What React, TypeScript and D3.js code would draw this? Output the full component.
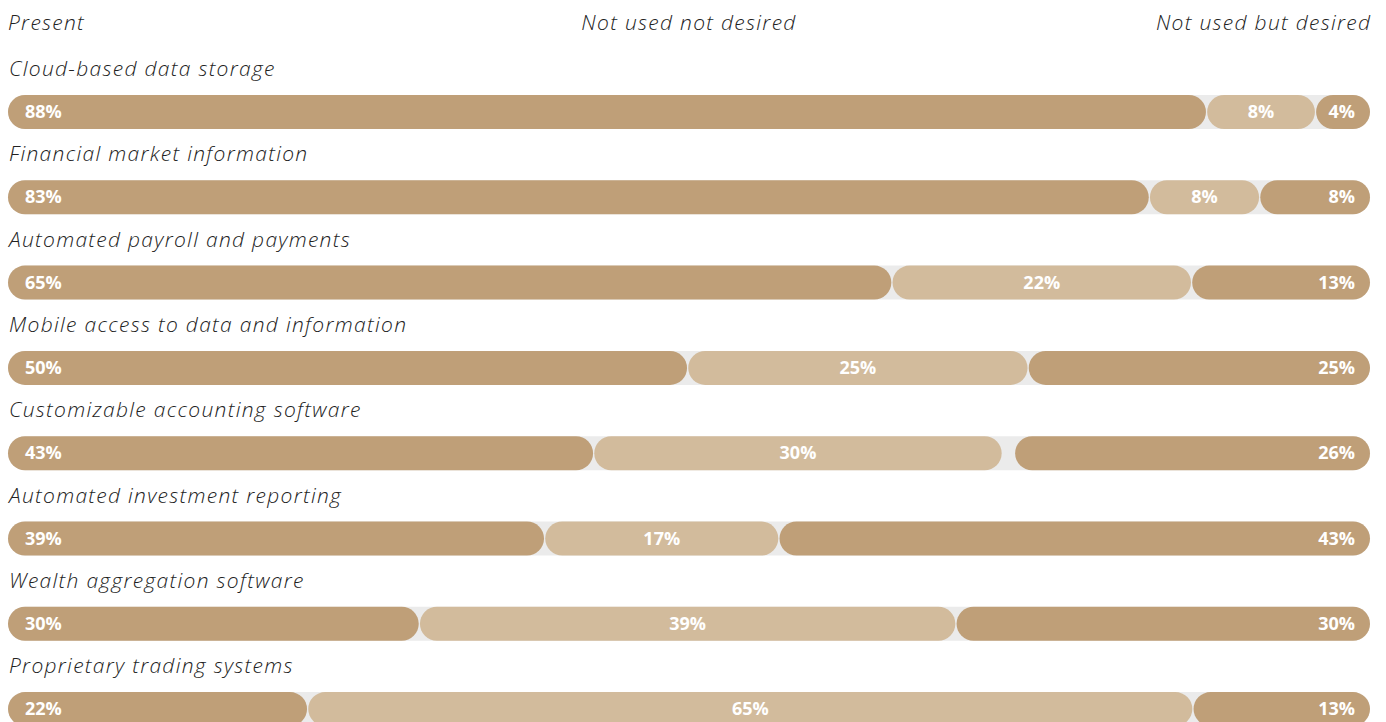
import React from "react";
import * as d3 from "d3";

const categories = [
  "Cloud-based data storage",
  "Financial market information",
  "Automated payroll and payments",
  "Mobile access to data and information",
  "Customizable accounting software",
  "Automated investment reporting",
  "Wealth aggregation software",
  "Proprietary trading systems",
];
// shares
const present = [88.0, 83.8, 64.9, 49.9, 43.0, 39.4, 30.2, 22.0];
const notUsedNotDesired = [8.0, 8.1, 22.0, 25.0, 30.0, 17.2, 39.4, 65.0];
const notUsedButDesired = [4.0, 8.1, 13.1, 25.1, 26.1, 43.4, 30.4, 13.0];
// percentages as printed on the bars
const presentLabels = [88, 83, 65, 50, 43, 39, 30, 22];
const notUsedNotDesiredLabels = [8, 8, 22, 25, 30, 17, 39, 65];
const notUsedButDesiredLabels = [4, 8, 13, 25, 26, 43, 30, 13];
const headers = ["Present", "Not used not desired", "Not used but desired"];

const W = 1386;
const H = 722;
const X0 = 8;
const X1 = 1370;
const BAR_H = 34;
const GAP = 0.6;
const DARK = "#bf9f78";
const LIGHT = "#d2bb9c";
const TRACK = "#ebebeb";
const labelFont = "'Open Sans', Lato, sans-serif";
const valueFont = "'Open Sans', Lato, sans-serif";
const LS = 1.3;

export default function App() {
  const x = d3.scaleLinear().domain([0, 100]).range([X0, X1]);
  const y = d3
    .scaleBand<number>()
    .domain(d3.range(categories.length))
    .range([95, 95 + 85.3 * categories.length])
    .paddingInner(0);
  const r = BAR_H / 2;

  return (
    <svg
      width={W}
      height={H}
      style={{ position: "absolute", left: 0, top: 0, background: "#fff" }}
    >
      <g
        fontFamily={labelFont}
        fontStyle="italic"
        fontWeight={300}
        fontSize={21}
        letterSpacing={LS}
        fill="#222"
      >
        <text x={X0} y={30}>{headers[0]}</text>
        <text x={(X0 + X1) / 2} y={30} textAnchor="middle">{headers[1]}</text>
        <text x={X1 + LS} y={30} textAnchor="end">{headers[2]}</text>
      </g>
      {categories.map((c, i) => {
        const by = y(i)!;
        const aEnd = x(present[i]);
        const bEnd = x(present[i] + notUsedNotDesired[i]);
        const cStart = x(100 - notUsedButDesired[i]);
        return (
          <g key={c}>
            <text
              x={X0 + 1}
              y={by - 19}
              fontFamily={labelFont}
              fontStyle="italic"
              fontWeight={300}
              fontSize={21}
              letterSpacing={LS}
              fill="#222"
            >
              {c}
            </text>
            <rect x={X0} y={by} width={X1 - X0} height={BAR_H} rx={r} fill={TRACK} />
            <rect x={X0} y={by} width={aEnd - X0 - GAP} height={BAR_H} rx={r} fill={DARK} />
            <rect x={aEnd + GAP} y={by} width={bEnd - aEnd - 2 * GAP} height={BAR_H} rx={r} fill={LIGHT} />
            <rect x={cStart + GAP} y={by} width={X1 - cStart - GAP} height={BAR_H} rx={r} fill={DARK} />
            <g fontFamily={valueFont} fontWeight={700} fontSize={18} fill="#fff">
              <text x={X0 + 17} y={by + BAR_H / 2 + 6}>{presentLabels[i]}%</text>
              <text x={(aEnd + bEnd) / 2} y={by + BAR_H / 2 + 6} textAnchor="middle">
                {notUsedNotDesiredLabels[i]}%
              </text>
              <text x={X1 - 15} y={by + BAR_H / 2 + 6} textAnchor="end">
                {notUsedButDesiredLabels[i]}%
              </text>
            </g>
          </g>
        );
      })}
    </svg>
  );
}
